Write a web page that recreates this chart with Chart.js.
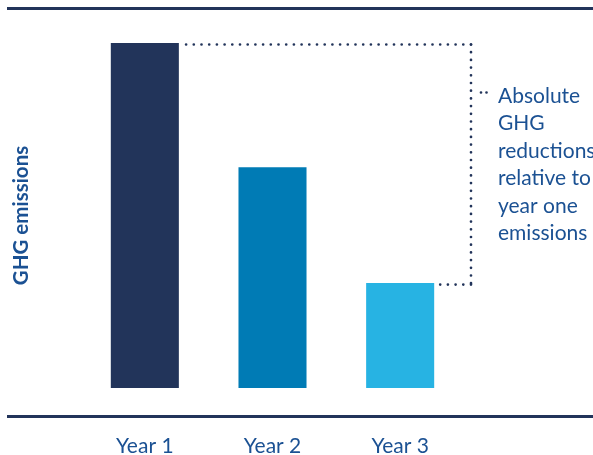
<!DOCTYPE html>
<html>
<head>
<meta charset="utf-8">
<script src="https://cdn.jsdelivr.net/npm/chart.js@4/dist/chart.umd.min.js"></script>
<style>
  html, body { margin: 0; padding: 0; background: #ffffff; }
  #wrap { width: 593px; height: 455px; position: relative; }
</style>
</head>
<body>
<div id="wrap"><canvas id="c" width="593" height="455"></canvas></div>
<script>
const categories = ["Year 1", "Year 2", "Year 3"];
const emissions = [100, 64, 30.4];
const barColors = ["#22345a", "#007bb5", "#27b3e3"];
const yAxisTitle = "GHG emissions";
const annotationLines = ["Absolute", "GHG", "reductions", "relative to", "year one", "emissions"];

const NAVY = "#22345a";
const TEXT_BLUE = "#1b5193";
const FONT = "Lato, 'Open Sans', sans-serif";

const decorPlugin = {
  id: "decor",
  afterDraw(chart) {
    const ctx = chart.ctx;
    const W = chart.width;
    const area = chart.chartArea;
    ctx.save();
    // top rule and bottom rule
    ctx.fillStyle = NAVY;
    ctx.fillRect(7, 7, W - 7, 3);
    ctx.fillRect(7, area.bottom + 27, W - 7, 3);

    // dotted bracket from bars
    const meta = chart.getDatasetMeta(0);
    const b1 = meta.data[0], b3 = meta.data[2];
    const r1 = b1.x + b1.width / 2, r3 = b3.x + b3.width / 2;
    const vx = area.right + 7;
    const y1 = b1.y + 1.5, y3 = b3.y + 1.5;
    ctx.strokeStyle = NAVY;
    ctx.lineWidth = 2.7;
    ctx.lineCap = "round";
    ctx.setLineDash([0, 7.7]);
    ctx.beginPath();
    ctx.moveTo(vx, y1); ctx.lineTo(r1 + 4, y1);
    ctx.stroke();
    ctx.beginPath();
    ctx.moveTo(vx, y1); ctx.lineTo(vx, y3);
    ctx.stroke();
    ctx.beginPath();
    ctx.moveTo(vx, y3); ctx.lineTo(r3 + 4, y3);
    ctx.stroke();
    // connector to text
    const ty = 92.5;
    ctx.setLineDash([0, 5.5]);
    ctx.beginPath();
    ctx.moveTo(vx + 10, ty); ctx.lineTo(vx + 21, ty);
    ctx.stroke();
    ctx.setLineDash([]);

    // annotation text
    ctx.fillStyle = TEXT_BLUE;
    ctx.font = "21px " + FONT;
    ctx.textBaseline = "alphabetic";
    ctx.textAlign = "left";
    annotationLines.forEach((t, i) => {
      ctx.fillText(t, vx + 27, 103 + i * 27.4);
    });
    ctx.restore();
  }
};

new Chart(document.getElementById("c"), {
  type: "bar",
  data: {
    labels: categories,
    datasets: [{
      data: emissions,
      backgroundColor: barColors,
      borderWidth: 0,
      categoryPercentage: 1,
      barPercentage: 0.533
    }]
  },
  options: {
    responsive: false,
    animation: false,
    layout: { padding: { top: 43, right: 129, left: 0, bottom: 0 } },
    plugins: { legend: { display: false }, tooltip: { enabled: false } },
    scales: {
      x: {
        grid: { display: false, drawTicks: false },
        border: { display: false },
        ticks: { color: TEXT_BLUE, font: { family: FONT, size: 21 }, padding: 46 },
        afterFit(scale) { scale.height = 67; }
      },
      y: {
        min: 0, max: 100,
        grid: { display: false, drawTicks: false },
        border: { display: false },
        ticks: { display: false },
        title: {
          display: true, text: yAxisTitle, color: TEXT_BLUE,
          font: { family: FONT, size: 20.5, weight: "bold" },
          padding: { top: 9, bottom: 0 }
        },
        afterFit(scale) { scale.width = 81; }
      }
    }
  },
  plugins: [decorPlugin]
});
</script>
</body>
</html>
